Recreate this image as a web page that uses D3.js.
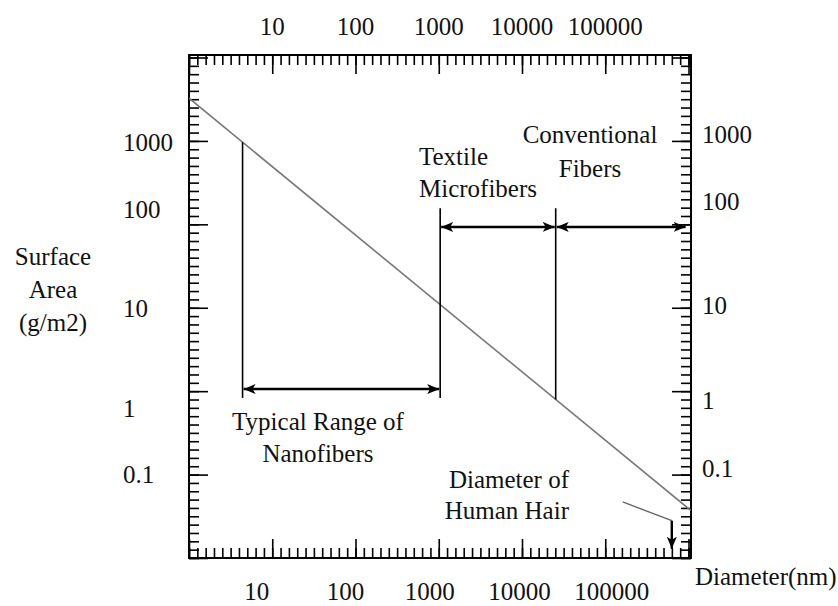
<!DOCTYPE html>
<html>
<head>
<meta charset="utf-8">
<script src="https://cdn.jsdelivr.net/npm/d3@7"></script>
<style>
  body { margin: 0; background: #fff; }
  text { font-family: "Liberation Serif", "Times New Roman", serif; font-size: 25px; fill: #111; }
</style>
</head>
<body>
<script>
//data
var topLabels = ["10", "100", "1000", "10000", "100000"];
var topLabelAt = [10, 100, 1000, 10000, 100000];
var bottomLabels = ["10", "100", "1000", "10000", "100000"];
var bottomLabelAt = [6.5, 76, 780, 9300, 120000];
var leftLabels = ["1000", "100", "10", "1", "0.1"];
var leftLabelAt = [960, 151, 9.8, 0.62, 0.1];
var rightLabels = ["1000", "100", "10", "1", "0.1"];
var rightLabelAt = [1200, 188, 10.7, 0.77, 0.118];

// surface area vs diameter (nm -> g/m2)
var curveDiam = [1, 1070000];
var curveArea = [3250, 0.037];

// range markers (diameter in nm)
var nanoRange = [4.4, 1040];
var microRange = [1040, 25400];
var convRange = [25400, 950000];
var nanoArrowAt = 1.06, fiberArrowAt = 93, bracketBottom = 0.83, bracketTop = 156;
var hairPath = [[162000, 0.047], [630000, 0.028]];
var hairTip = 0.0129;

var annotations = [
    ["Typical Range of", "Nanofibers"],
    ["Textile", "Microfibers"],
    ["Conventional", "Fibers"],
    ["Diameter of", "Human Hair"],
    ["Surface", "Area", "(g/m2)"],
    ["Diameter(nm)"]
];

var width = 838, height = 606;
var m = { top: 55, right: 147, bottom: 48, left: 189 };
var lg = Math.log10;

var x = d3.scaleLinear().domain([0, 6.03]).range([m.left, width - m.right]);
var y = d3.scaleLinear().domain([-2, 4.03]).range([height - m.bottom, m.top]);

var svg = d3.select("body").append("svg")
    .attr("width", width)
    .attr("height", height);

var defs = svg.append("defs");
function marker(id, d) {
    defs.append("marker")
        .attr("id", id)
        .attr("viewBox", "0 0 12 10")
        .attr("refX", 12).attr("refY", 5)
        .attr("markerWidth", 12).attr("markerHeight", 10)
        .attr("markerUnits", "userSpaceOnUse")
        .attr("orient", "auto-start-reverse")
        .append("path").attr("d", d).attr("fill", "#000");
}
marker("arrow", "M0,0L12,5L0,10L3,5Z");

//ticks
var minorX = d3.range(0, 61).map(function (d) { return d / 10; });
var majorX = d3.range(0, 7);
var minorY = d3.range(-20, 41).map(function (d) { return d / 10; });
var majorY = d3.range(-2, 5);

function tickAxis(axis, pos, values, size) {
    var g = svg.append("g")
        .attr("transform", pos)
        .call(axis.tickValues(values).tickSize(size).tickFormat(""));
    g.select(".domain").remove();
    g.selectAll("line").attr("stroke", "#000").attr("stroke-width", 1.6);
}
var minorLen = 10, majorLen = 19;
tickAxis(d3.axisBottom(x), "translate(0," + m.top + ")", minorX, minorLen);
tickAxis(d3.axisBottom(x), "translate(0," + m.top + ")", majorX, majorLen);
tickAxis(d3.axisTop(x), "translate(0," + (height - m.bottom) + ")", minorX, minorLen);
tickAxis(d3.axisTop(x), "translate(0," + (height - m.bottom) + ")", majorX, majorLen);
tickAxis(d3.axisRight(y), "translate(" + m.left + ",0)", minorY, minorLen);
tickAxis(d3.axisRight(y), "translate(" + m.left + ",0)", majorY, majorLen);
tickAxis(d3.axisLeft(y), "translate(" + (width - m.right) + ",0)", minorY, minorLen);
tickAxis(d3.axisLeft(y), "translate(" + (width - m.right) + ",0)", majorY, majorLen);

//frame
svg.append("rect")
    .attr("x", x(0)).attr("y", y(4.03))
    .attr("width", x(6.03) - x(0))
    .attr("height", y(-2) - y(4.03))
    .attr("fill", "none").attr("stroke", "#000").attr("stroke-width", 2);

//tick labels
svg.append("g").selectAll("text").data(topLabels).enter().append("text")
    .text(function (d) { return d; })
    .attr("x", function (d, i) { return x(lg(topLabelAt[i])); })
    .attr("y", 35).attr("text-anchor", "middle");
svg.append("g").selectAll("text").data(bottomLabels).enter().append("text")
    .text(function (d) { return d; })
    .attr("x", function (d, i) { return x(lg(bottomLabelAt[i])); })
    .attr("y", 600).attr("text-anchor", "middle");
svg.append("g").selectAll("text").data(leftLabels).enter().append("text")
    .text(function (d) { return d; })
    .attr("x", m.left - 66)
    .attr("y", function (d, i) { return y(lg(leftLabelAt[i])); })
    .attr("dy", "0.35em");
svg.append("g").selectAll("text").data(rightLabels).enter().append("text")
    .text(function (d) { return d; })
    .attr("x", width - m.right + 11)
    .attr("y", function (d, i) { return y(lg(rightLabelAt[i])); })
    .attr("dy", "0.35em");

//main curve
var line = d3.line()
    .x(function (d) { return x(lg(d[0])); })
    .y(function (d) { return y(lg(d[1])); });
var clip = defs.append("clipPath").attr("id", "clip").append("rect")
    .attr("x", x(0)).attr("y", y(4.03))
    .attr("width", x(6.03) - x(0)).attr("height", y(-2) - y(4.03));
svg.append("path")
    .datum(curveDiam.map(function (d, i) { return [d, curveArea[i]]; }))
    .attr("d", line)
    .attr("clip-path", "url(#clip)")
    .attr("fill", "none").attr("stroke", "#777").attr("stroke-width", 1.6);

function areaAt(d) {
    var t = (lg(d) - lg(curveDiam[0])) / (lg(curveDiam[1]) - lg(curveDiam[0]));
    return Math.pow(10, lg(curveArea[0]) + t * (lg(curveArea[1]) - lg(curveArea[0])));
}

//brackets
var vlines = [
    [nanoRange[0], areaAt(nanoRange[0]), bracketBottom],
    [nanoRange[1], bracketTop, bracketBottom],
    [microRange[1], bracketTop, areaAt(microRange[1])]
];
svg.append("g").selectAll("line").data(vlines).enter().append("line")
    .attr("x1", function (d) { return x(lg(d[0])); })
    .attr("x2", function (d) { return x(lg(d[0])); })
    .attr("y1", function (d) { return y(lg(d[1])); })
    .attr("y2", function (d) { return y(lg(d[2])); })
    .attr("stroke", "#000").attr("stroke-width", 1.6);

var arrows = [
    [nanoRange, nanoArrowAt],
    [microRange, fiberArrowAt],
    [convRange, fiberArrowAt]
];
svg.append("g").selectAll("line").data(arrows).enter().append("line")
    .attr("x1", function (d) { return x(lg(d[0][0])) + 1; })
    .attr("x2", function (d) { return x(lg(d[0][1])) - 1; })
    .attr("y1", function (d) { return y(lg(d[1])); })
    .attr("y2", function (d) { return y(lg(d[1])); })
    .attr("stroke", "#000").attr("stroke-width", 2.6)
    .attr("marker-start", "url(#arrow)")
    .attr("marker-end", "url(#arrow)");

//human hair pointer
svg.append("path")
    .datum(hairPath)
    .attr("d", line)
    .attr("fill", "none").attr("stroke", "#666").attr("stroke-width", 1.4);
svg.append("line")
    .attr("x1", x(lg(hairPath[1][0]))).attr("x2", x(lg(hairPath[1][0])))
    .attr("y1", y(lg(hairPath[1][1]))).attr("y2", y(lg(hairTip)))
    .attr("stroke", "#000").attr("stroke-width", 2.4)
    .attr("marker-end", "url(#arrow)");

//annotations
var annoPos = [
    { x: 318, y: 430, anchor: "middle", lh: 32 },
    { x: 419, y: 165, anchor: "start", lh: 32 },
    { x: 590, y: 143, anchor: "middle", lh: 34 },
    { x: 569, y: 488, anchor: "end", lh: 31 },
    { x: 53, y: 265, anchor: "middle", lh: 33 },
    { x: 695, y: 585, anchor: "start", lh: 30 }
];
annotations.forEach(function (lines, i) {
    var p = annoPos[i];
    var t = svg.append("text")
        .attr("x", p.x).attr("y", p.y)
        .attr("text-anchor", p.anchor);
    lines.forEach(function (s, j) {
        t.append("tspan").attr("x", p.x).attr("y", p.y + j * p.lh).text(s);
    });
});
</script>
</body>
</html>
